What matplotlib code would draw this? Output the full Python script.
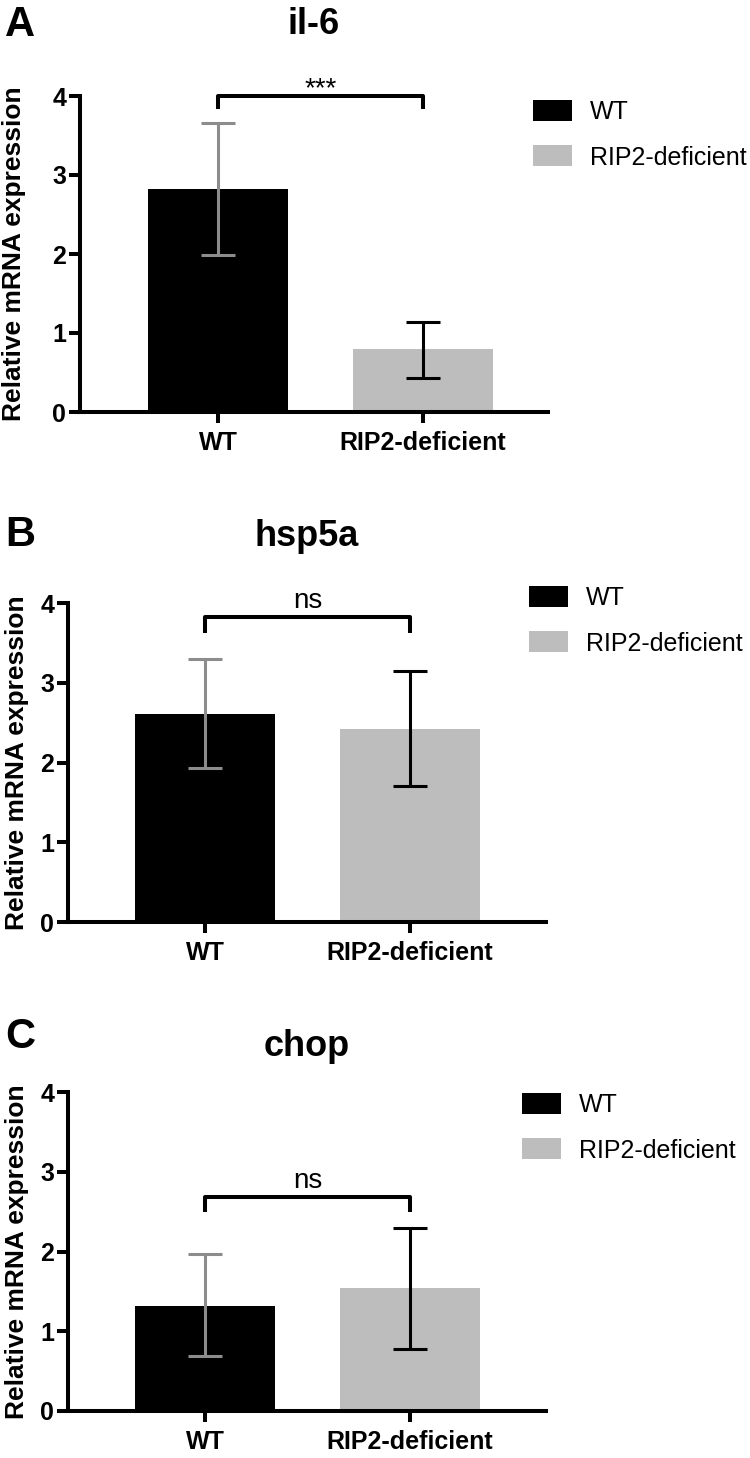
import numpy as np
import matplotlib
matplotlib.use("Agg")
import matplotlib.pyplot as plt
from matplotlib.patches import Patch

plt.rcParams['font.family'] = ['Liberation Sans', 'DejaVu Sans']

groups = ["WT", "RIP2-deficient"]
genes = ["il-6", "hsp5a", "chop"]
letters = ["A", "B", "C"]

means = [[2.82, 0.80],
         [2.61, 2.42],
         [1.32, 1.54]]
err_hi = [[3.66, 1.14],
          [3.30, 3.15],
          [1.97, 2.30]]
err_lo = [[1.99, 0.43],
          [1.93, 1.71],
          [0.69, 0.78]]

sig_labels = ["***", "ns", "ns"]
bracket_top = [4.0, 3.82, 2.69]
bracket_leg = [3.83, 3.63, 2.49]

barColors = ["#000000", "#bdbdbd"]
errColors = ["#8c8c8c", "#000000"]

W, H = 750, 1458
fig = plt.figure(figsize=(W / 100, H / 100), dpi=100)

# panel boxes in pixels: left, right, y of zero, y of 4, first bar centre
boxes = [(80, 548, 412, 96, 218),
         (68, 546, 922, 603, 205),
         (68, 546, 1410.7, 1092.3, 205)]
titleY = [25, 537, 1047]
letterY = [25, 535, 1037]
legendAt = [(533, 100), (529, 586), (522, 1093)]
ylabelX = [26, 29, 29]

lw = 2.9
spacing = 205.0
for i in range(3):
    left, right, y0, y4, c0 = boxes[i]
    ax = fig.add_axes([left / W, 1 - y0 / H, (right - left) / W, (y0 - y4) / H])
    x = np.arange(len(groups))
    lo = -(c0 - left) / spacing
    ax.set_xlim(lo, lo + (right - left) / spacing)
    ax.set_ylim(0, 4)

    for j in range(len(groups)):
        ax.bar(x[j], means[i][j], width=0.685, color=barColors[j], zorder=1)
        yerr = [[means[i][j] - err_lo[i][j]], [err_hi[i][j] - means[i][j]]]
        ax.errorbar(x[j], means[i][j], yerr=yerr, fmt='none', ecolor=errColors[j],
                    elinewidth=2.2, capsize=12, capthick=2.2, zorder=3, clip_on=False)

    # significance bracket
    ax.plot([0, 0, 1, 1], [bracket_leg[i], bracket_top[i], bracket_top[i], bracket_leg[i]],
            color='black', lw=lw, solid_capstyle='butt', clip_on=False, zorder=4)
    if sig_labels[i] == "***":
        ax.annotate(sig_labels[i], xy=(0.5, bracket_top[i]), xytext=(0, 5),
                    textcoords='offset points', ha='center', va='center', fontsize=20,
                    annotation_clip=False)
    else:
        ax.annotate(sig_labels[i], xy=(0.5, bracket_top[i]), xytext=(0, 6.5),
                    textcoords='offset points', ha='center', va='baseline', fontsize=20,
                    annotation_clip=False)

    for s in ['top', 'right']:
        ax.spines[s].set_visible(False)
    for s in ['left', 'bottom']:
        ax.spines[s].set_linewidth(lw)
    ax.set_xticks(x)
    ax.set_xticklabels(groups, fontsize=18, fontweight='bold')
    ax.set_yticks([0, 1, 2, 3, 4])
    ax.set_yticklabels(["0", "1", "2", "3", "4"], fontsize=18, fontweight='bold')
    ax.tick_params(axis='x', length=8, width=lw, pad=6)
    ax.tick_params(axis='y', length=8, width=lw, pad=2)
    ax.set_ylabel("Relative mRNA expression", fontsize=19, fontweight='bold')
    ax.yaxis.set_label_coords((ylabelX[i] - left) / (right - left), 0.5)

    handles = [Patch(facecolor=barColors[k], edgecolor='none', label=groups[k]) for k in range(len(groups))]
    lx, ly = legendAt[i]
    ax.legend(handles=handles, loc='upper left', bbox_to_anchor=(lx / W, 1 - ly / H),
              bbox_transform=fig.transFigure, frameon=False, fontsize=18, borderpad=0,
              borderaxespad=0, handlelength=1.56, handleheight=0.92, handletextpad=0.72,
              labelspacing=0.85)

    fig.text((left + right) / 2 / W, 1 - titleY[i] / H, genes[i], ha='center', va='center',
             fontsize=26, fontweight='bold')
    fig.text(5 / W, 1 - letterY[i] / H, letters[i], ha='left', va='center',
             fontsize=30, fontweight='bold')

fig.savefig("out.png", dpi=100)
